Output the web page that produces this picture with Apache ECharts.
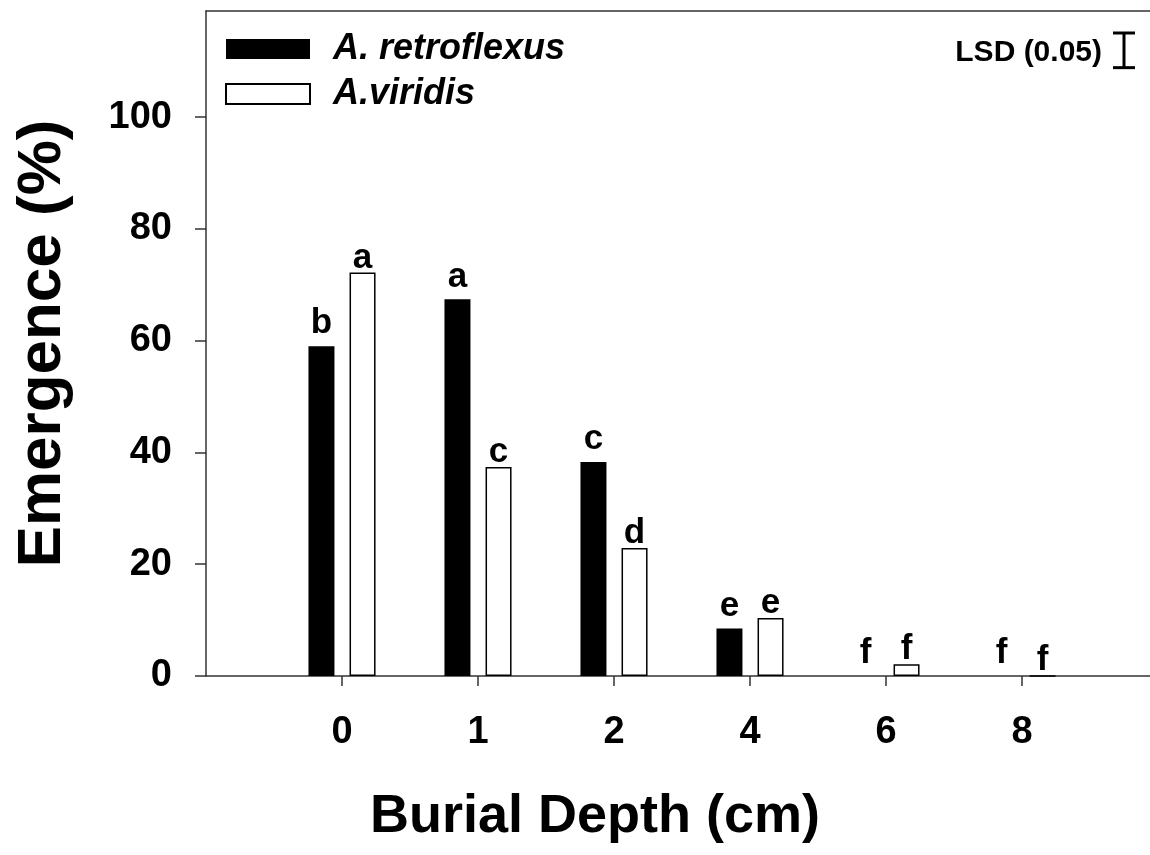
<!DOCTYPE html>
<html>
<head>
<meta charset="utf-8">
<script src="https://cdn.jsdelivr.net/npm/echarts@6/dist/echarts.min.js"></script>
<style>
html,body{margin:0;padding:0;background:#fff;}
#c{width:1150px;height:855px;}
</style>
</head>
<body>
<div id="c"></div>
<script>
// ---- data ----
const categories = ['0', '1', '2', '4', '6', '8'];
const retroflexus = [59.0, 67.4, 38.3, 8.5, 0, 0];
const viridis = [72.2, 37.4, 22.9, 10.4, 2.1, 0];
const retroLetters = ['b', 'a', 'c', 'e', 'f', 'f'];
const viridisLetters = ['a', 'c', 'd', 'e', 'f', 'f'];
const yTicks = [0, 20, 40, 60, 80, 100];
const lsdValue = [6.2];

const FONT = '"Liberation Sans", Arial, Helvetica, sans-serif';
// padded axis: one empty slot before and after
const axisCats = [''].concat(categories, ['']);
const pad = arr => [null].concat(arr, [null]);
const padL = arr => [''].concat(arr, ['']);
const rL = padL(retroLetters), vL = padL(viridisLetters);

const chart = echarts.init(document.getElementById('c'), null, {renderer: 'canvas'});
chart.setOption({
  animation: false,
  backgroundColor: '#fff',
  grid: {left: 206, right: -8, top: 11, bottom: 179, containLabel: false, outerBoundsMode: 'none'},
  legend: {
    orient: 'vertical', left: 225, top: 31, padding: 0,
    itemWidth: 84, itemHeight: 20, itemGap: 9,
    icon: 'rect',
    selectedMode: false,
    textStyle: {fontFamily: FONT, fontSize: 36, fontWeight: 'bold', fontStyle: 'italic', color: '#000', padding: [0, 0, 0, 18]},
    data: ['A. retroflexus', 'A.viridis']
  },
  xAxis: [{
    type: 'category', data: axisCats, boundaryGap: false,
    axisLine: {lineStyle: {color: '#333', width: 1.5}},
    axisTick: {length: 10, lineStyle: {color: '#333', width: 1.5}, interval: (i) => i > 0 && i < axisCats.length - 1},
    axisLabel: {interval: 0, margin: 38, fontFamily: FONT, fontSize: 38, fontWeight: 'bold', color: '#000'},
    splitLine: {show: false}
  }, {
    type: 'category', data: axisCats, boundaryGap: false, position: 'top',
    axisLine: {lineStyle: {color: '#333', width: 1.5}},
    axisTick: {show: false}, axisLabel: {show: false}, splitLine: {show: false}
  }],
  yAxis: {
    type: 'value', min: 0, max: 119, interval: 20,
    name: 'Emergence (%)', nameLocation: 'middle', nameRotate: 90, nameGap: 132,
    nameTextStyle: {fontFamily: FONT, fontSize: 62, fontWeight: 'bold', color: '#000'},
    axisLine: {show: true, lineStyle: {color: '#333', width: 1.5}},
    axisTick: {show: true, length: 11, lineStyle: {color: '#333', width: 1.5}, customValues: yTicks},
    axisLabel: {margin: 34, fontFamily: FONT, fontSize: 38, fontWeight: 'bold', color: '#000', customValues: yTicks},
    splitLine: {show: false}
  },
  series: [{
    name: 'A. retroflexus', type: 'bar', data: pad(retroflexus),
    barWidth: 26, barGap: '58%',
    itemStyle: {color: '#000', borderColor: '#000', borderWidth: 0},
    label: {show: true, position: 'top', distance: 5, fontFamily: FONT, fontSize: 35, fontWeight: 'bold', color: '#000',
      formatter: p => rL[p.dataIndex] || ''}
  }, {
    name: 'A.viridis', type: 'bar', data: pad(viridis),
    barWidth: 26, barGap: '58%',
    itemStyle: {color: '#fff', borderColor: '#000', borderWidth: 1.5},
    label: {show: true, position: 'top', distance: -3, fontFamily: FONT, fontSize: 35, fontWeight: 'bold', color: '#000',
      formatter: p => vL[p.dataIndex] || ''}
  }, {
    name: 'LSD', type: 'custom', data: lsdValue.map(v => [0, v]),
    silent: true,
    renderItem: function (params, api) {
      const cs = params.coordSys;
      const h = api.size([0, api.value(1)])[1];
      const cx = cs.x + cs.width - 34;
      const top = cs.y + 22;
      const half = 11;
      const st = {stroke: '#000', lineWidth: 3};
      return {type: 'group', children: [
        {type: 'line', shape: {x1: cx, y1: top, x2: cx, y2: top + h}, style: st},
        {type: 'line', shape: {x1: cx - half, y1: top, x2: cx + half, y2: top}, style: st},
        {type: 'line', shape: {x1: cx - half, y1: top + h, x2: cx + half, y2: top + h}, style: st}
      ]};
    }
  }],
  graphic: [{
    type: 'text', x: 1102, y: 53,
    style: {text: 'LSD (0.05)', fontFamily: FONT, fontSize: 30, fontWeight: 'bold', fill: '#000', align: 'right', verticalAlign: 'middle'}
  }, {
    type: 'text', x: 595, y: 817,
    style: {text: 'Burial Depth (cm)', fontFamily: FONT, fontSize: 54, fontWeight: 'bold', fill: '#000', align: 'center', verticalAlign: 'middle'}
  }]
});
</script>
</body>
</html>
